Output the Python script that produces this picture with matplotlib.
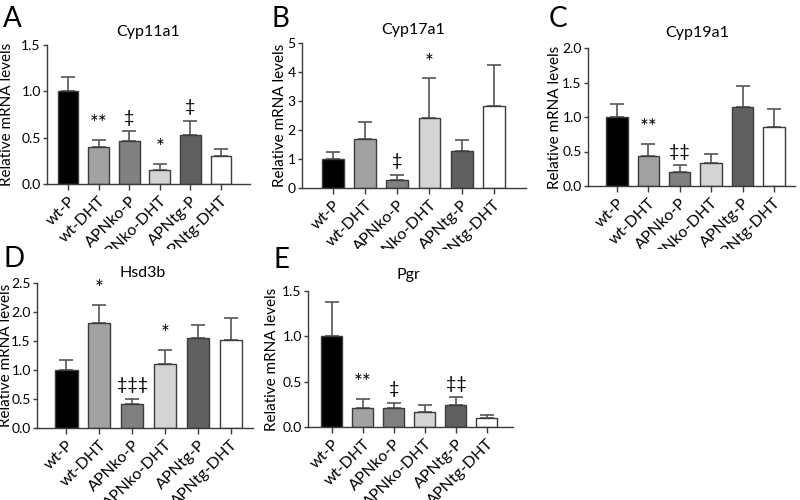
import matplotlib
matplotlib.use("Agg")
import matplotlib.pyplot as plt
from matplotlib.transforms import Bbox
import numpy as np

plt.rcParams['font.family'] = ['Lato', 'DejaVu Sans']

groups = ["wt-P", "wt-DHT", "APNko-P", "APNko-DHT", "APNtg-P", "APNtg-DHT"]
bar_colors = ["#000000", "#a2a2a2", "#808080", "#d4d4d4", "#606060", "#ffffff"]

cyp11a1_mean = [1.00, 0.40, 0.46, 0.15, 0.53, 0.30]
cyp11a1_err = [0.16, 0.08, 0.11, 0.07, 0.15, 0.08]
cyp11a1_sig = ["", "**", "‡", "*", "‡", ""]

cyp17a1_mean = [1.00, 1.70, 0.28, 2.42, 1.28, 2.83]
cyp17a1_err = [0.25, 0.58, 0.17, 1.36, 0.37, 1.42]
cyp17a1_sig = ["", "", "‡", "*", "", ""]

cyp19a1_mean = [1.00, 0.43, 0.20, 0.33, 1.15, 0.85]
cyp19a1_err = [0.19, 0.18, 0.10, 0.13, 0.30, 0.27]
cyp19a1_sig = ["", "**", "‡‡", "", "", ""]

hsd3b_mean = [1.00, 1.81, 0.41, 1.10, 1.56, 1.52]
hsd3b_err = [0.18, 0.31, 0.09, 0.25, 0.22, 0.37]
hsd3b_sig = ["", "*", "‡‡‡", "*", "", ""]

pgr_mean = [1.00, 0.21, 0.21, 0.16, 0.24, 0.10]
pgr_err = [0.38, 0.10, 0.06, 0.08, 0.09, 0.03]
pgr_sig = ["", "**", "‡", "", "‡‡", ""]

W, H = 800, 500
fig = plt.figure(figsize=(8, 5), dpi=100)

def ax_at(l, r, top, bot):
    return fig.add_axes([l / W, 1 - bot / H, (r - l) / W, (bot - top) / H])

panels = [
    dict(letter="A", title="Cyp11a1", mean=cyp11a1_mean, err=cyp11a1_err, sig=cyp11a1_sig,
         box=(47, 250, 45, 184), ylim=1.5, ticks=[0, 0.5, 1.0, 1.5], fmt="{:.1f}", xlim=(-0.69, 5.95),
         letter_xy=(3, 27), title_xy=(148, 32), ylab_x=7, clip=249),
    dict(letter="B", title="Cyp17a1", mean=cyp17a1_mean, err=cyp17a1_err, sig=cyp17a1_sig,
         box=(302, 526, 43, 188), ylim=5, ticks=[0, 1, 2, 3, 4, 5], fmt="{:.0f}", xlim=(-0.96, 6.0),
         letter_xy=(272, 27), title_xy=(413, 30), ylab_x=280, clip=249),
    dict(letter="C", title="Cyp19a1", mean=cyp19a1_mean, err=cyp19a1_err, sig=cyp19a1_sig,
         box=(588, 795, 48, 186), ylim=2.0, ticks=[0, 0.5, 1.0, 1.5, 2.0], fmt="{:.1f}", xlim=(-0.92, 5.67),
         letter_xy=(549, 27), title_xy=(697, 33), ylab_x=555, clip=249),
    dict(letter="D", title="Hsd3b", mean=hsd3b_mean, err=hsd3b_err, sig=hsd3b_sig,
         box=(37, 253, 283, 428), ylim=2.5, ticks=[0, 0.5, 1.0, 1.5, 2.0, 2.5], fmt="{:.1f}", xlim=(-0.89, 5.67),
         letter_xy=(4, 267), title_xy=(143, 273), ylab_x=6, clip=None),
    dict(letter="E", title="Pgr", mean=pgr_mean, err=pgr_err, sig=pgr_sig,
         box=(308, 513, 291, 427), ylim=1.5, ticks=[0, 0.5, 1.0, 1.5], fmt="{:.1f}", xlim=(-0.77, 5.84),
         letter_xy=(274, 268), title_xy=(408, 275), ylab_x=272, clip=None),
]

spine_col = "#3a3a3a"
x = np.arange(len(groups))
for p in panels:
    l, r, t, b = p["box"]
    ax = ax_at(l, r, t, b)
    ax.bar(x, p["mean"], width=0.68, color=bar_colors, edgecolor="#3c3c3c", linewidth=1.0, zorder=2)
    ax.errorbar(x, p["mean"], yerr=[np.zeros(6), p["err"]], fmt="none", ecolor="#555555",
                elinewidth=1.2, capsize=5, capthick=1.2, zorder=1)
    ax.set_ylim(0, p["ylim"])
    ax.set_xlim(*p["xlim"])
    ax.set_yticks(p["ticks"])
    ax.set_yticklabels([p["fmt"].format(v) for v in p["ticks"]], fontsize=10)
    ax.set_xticks(x)
    ax.set_xticklabels(groups, rotation=45, ha="right", rotation_mode="anchor", fontsize=11.5)
    ax.spines["top"].set_visible(False)
    ax.spines["right"].set_visible(False)
    for s in ("left", "bottom"):
        ax.spines[s].set_color(spine_col)
        ax.spines[s].set_linewidth(1.0)
    ax.tick_params(axis="y", direction="out", length=3, width=1.0, color=spine_col, pad=1.5)
    ax.tick_params(axis="x", direction="out", length=4, width=1.0, color=spine_col, pad=3)
    ax.set_ylabel("Relative mRNA levels", fontsize=11)
    ax.yaxis.label.set_verticalalignment("center")
    ax.yaxis.set_label_coords((p["ylab_x"] - l) / (r - l), 0.5)
    if p["clip"] is not None:
        cb = Bbox([[0, H - p["clip"]], [W, H]])
        for lab in ax.get_xticklabels():
            lab.set_clip_box(cb)
            lab.set_clip_on(True)
    pad = p["ylim"] * 0.04
    for i, s in enumerate(p["sig"]):
        if s:
            fs = 15 if "*" in s else 13
            ax.text(i, p["mean"][i] + p["err"][i] + pad, s, ha="center", va="bottom", fontsize=fs)
    fig.text(p["title_xy"][0] / W, 1 - p["title_xy"][1] / H, p["title"], ha="center", va="center", fontsize=11.5)
    fig.text(p["letter_xy"][0] / W, 1 - p["letter_xy"][1] / H, p["letter"], ha="left", va="baseline", fontsize=20)

fig.savefig("out.png", dpi=100)
